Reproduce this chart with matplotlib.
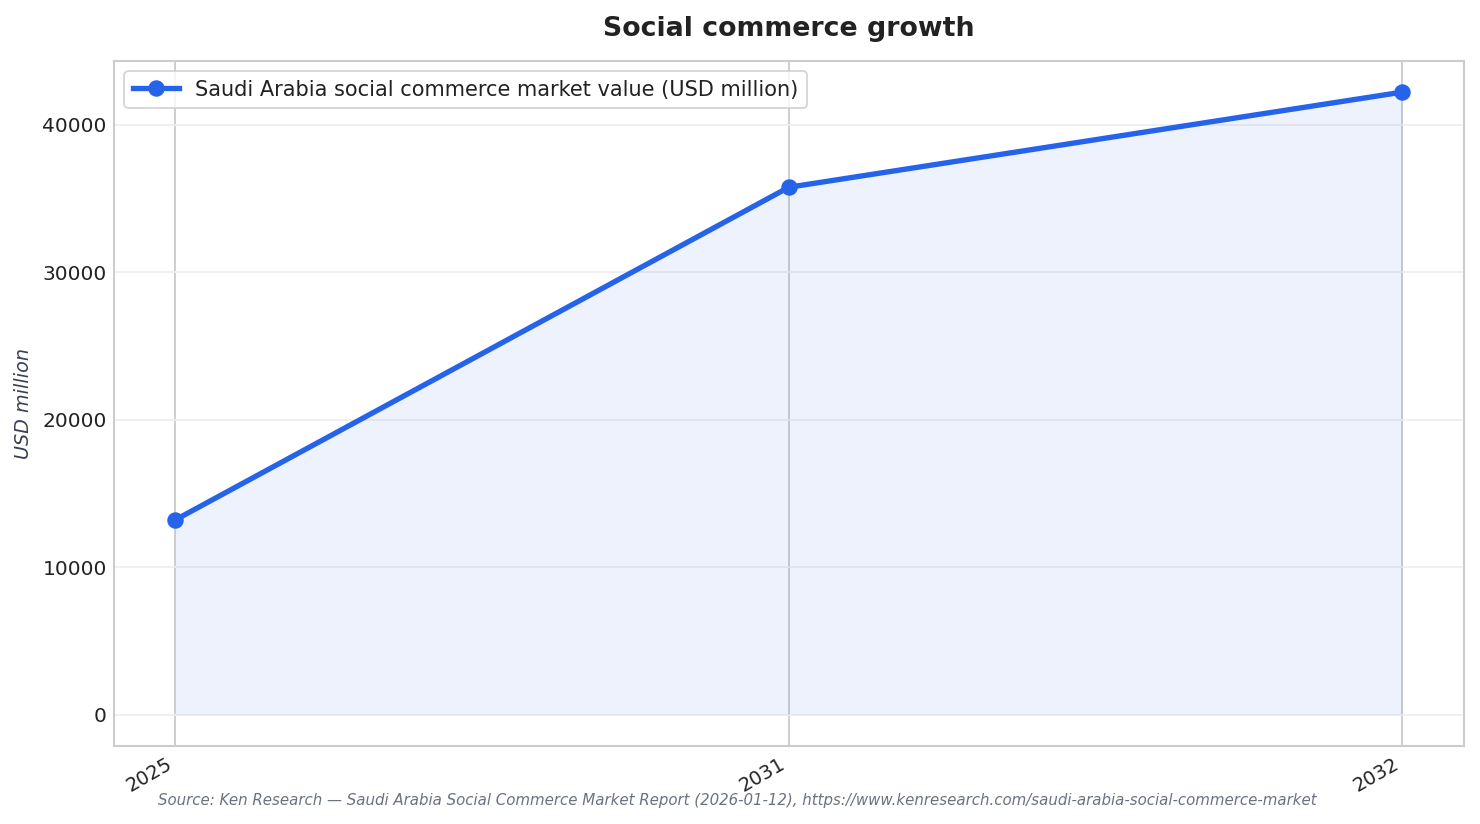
import matplotlib
matplotlib.use("Agg")
import matplotlib.pyplot as plt

# values
years = ["2025", "2031", "2032"]
market_value = [13200, 35750, 42200]
series_label = "Saudi Arabia social commerce market value (USD million)"
source_note = ("Source: Ken Research \u2014 Saudi Arabia Social Commerce Market Report (2026-01-12), "
               "https://www.kenresearch.com/saudi-arabia-social-commerce-market")

line_color = "#2563eb"

fig, ax = plt.subplots(figsize=(10, 824 / 148), dpi=148)
fig.subplots_adjust(left=0.077, right=0.989, top=0.926, bottom=0.095)

x = list(range(len(years)))
ax.fill_between(x, market_value, 0, color=line_color, alpha=0.08, linewidth=0)
ax.plot(x, market_value, color=line_color, linewidth=2.6, marker="o", markersize=7,
        label=series_label, zorder=3)

ax.set_xticks(x)
ax.set_xticklabels(years, rotation=30, ha="right", fontsize=9.5, color="#222222")
ax.tick_params(axis="y", labelsize=9.8, colors="#222222", length=0, pad=3.5)
ax.tick_params(axis="x", length=0, pad=4)

ax.grid(axis="x", color="#cccccc", linewidth=0.9)
ax.grid(axis="y", color="#eeeeee", linewidth=0.9)
ax.set_axisbelow(True)
for sp in ax.spines.values():
    sp.set_color("#cccccc")
    sp.set_linewidth(1.0)

ax.set_title("Social commerce growth", fontsize=13, fontweight="bold", color="#222222", pad=12)
ax.set_ylabel("USD million", fontsize=9.3, style="italic", color="#374151")
ax.yaxis.set_label_coords(-0.060, 0.5)

leg = ax.legend(loc="upper left", fontsize=10.15, frameon=True, fancybox=True, handlelength=2.2)
leg.get_frame().set_edgecolor("#cccccc")
leg.get_frame().set_linewidth(0.9)
for t in leg.get_texts():
    t.set_color("#222222")

fig.text(0.498, 0.028, source_note, ha="center", va="center", fontsize=7.3, style="italic",
         color="#6b7280")

fig.savefig("out.png", dpi=148)
